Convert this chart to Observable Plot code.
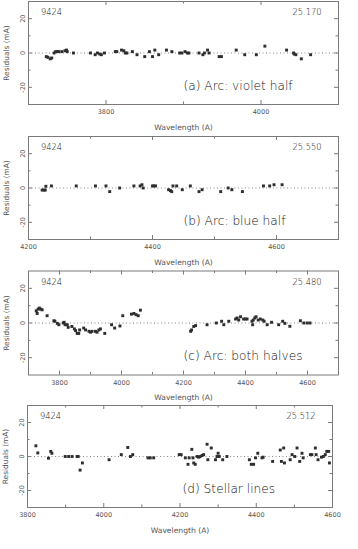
<!DOCTYPE html>
<html><head><meta charset="utf-8">
<script src="https://cdn.jsdelivr.net/npm/d3@7"></script>
<script src="https://cdn.jsdelivr.net/npm/@observablehq/plot@0.6"></script>
<style>body{margin:0;background:#fff}#chart svg{display:block}</style>
</head><body><div id="chart"></div>
<script>
// ---- data ----
const violetWave = [3723,3725,3728,3730,3733,3735,3737,3739,3743,3747,3749,3750,3758,3780,3786,3789,3792,3794,3798,3812,3814,3820,3823,3825,3827,3834,3840,3850,3856,3860,3863,3868,3878,3885,3895,3898,3902,3905,3907,3920,3925,3927,3931,3933,3946,3949,3968,3979,3994,4005,4033,4042,4043,4045,4052,4064];
const violetResid = [-2.1,-2.5,-3.4,-2.9,0,0.8,0.8,0.8,0.8,1.3,1.7,0.8,0,0,-1,0,-0.6,-1,0,0.8,0.8,1.7,1.3,0,0,0.8,-1,-2.1,0.8,-2.1,1.7,-1,1.7,0.8,0,0,0.8,0,0,0,-1,0,1.7,0,-2.1,-2.1,1.7,-1,-1,4,1.7,0,-0.6,-1,-3.4,-1];

const blueWave = [4222,4225,4227,4228,4237,4277,4308,4325,4331,4347,4370,4380,4383,4385,4400,4402,4405,4426,4429,4431,4433,4439,4448,4461,4475,4480,4510,4522,4528,4545,4579,4589,4596,4609];
const blueResid = [-1.2,-1.2,-1.2,1,1.2,1.2,1.2,1.2,-2.1,0,1.2,1.2,1.9,0,1.2,1.2,1.2,-1,-1.5,-2.1,1.2,1.2,-1,1.2,-2.1,-1,-2.1,0,-1,-2.1,1.2,1.2,1.9,1.9];

const bothWave = [3725,3728,3731,3735,3740,3744,3760,3782,3785,3793,3798,3812,3815,3818,3825,3828,3840,3848,3852,3857,3862,3865,3878,3884,3895,3900,3905,3916,3921,3927,3932,3946,3968,3978,3995,4004,4032,4040,4047,4054,4061,
  4223,4226,4233,4239,4276,4306,4323,4330,4346,4368,4373,4378,4384,4394,4400,4405,4421,4423,4425,4430,4434,4441,4448,4456,4460,4470,4484,4507,4520,4527,4543,4577,4588,4599,4608];
const bothResid = [7,5.5,8,8.6,8,7.6,4.2,1.3,1,-0.2,-1,0,0.4,-1,-1,-2.5,-2,-3.4,-4.4,-6,-6,-4,-2.9,-4,-4.8,-5.3,-4.8,-4.8,-5.3,-4,-3.4,-6,-1,-2.9,-1.7,4.2,5.1,5.5,4.8,4.2,7.4,
  -4.8,-4,-2,-1.5,-1,0,1,-1,1,2.3,2.9,1.7,3.6,2.3,2.3,2.3,1,-1,1.7,2.9,3.6,1.7,2.3,1.7,1,-1,0.4,-1,1,-0.2,-1.9,1.3,0,0,0];

const stellarWave = [3822,3827,3855,3861,3864,3899,3908,3917,3930,3933,3938,3944,4014,4046,4063,4070,4076,4116,4122,4131,4198,4203,4214,4221,4224,4231,4234,4236,4240,4245,4249,4253,4258,4262,4271,4273,4282,4293,4297,4300,4303,4312,4323,4382,4387,4393,4398,4404,4415,4418,4443,4463,4466,4472,4474,4489,4494,4501,4507,4514,4520,4523,4542,4546,4555,4557,4562,4571,4576,4581,4585,4590,4592];
const stellarResid = [6.3,2.1,-1,3,1.9,0,0,0,0,0,-8,-3.8,-1.9,1.1,5.3,0,1.1,-0.8,-0.8,-0.8,1.1,1.1,-0.8,-4.6,-0.8,4.2,-0.8,-3.8,-4.6,0,-0.4,0,0.6,1.1,7.2,-1.9,5,-1.9,0,1.9,0,-1.9,0,-1.9,-4.6,-4.6,-0.8,1.9,-0.8,-0.4,-2.9,3.8,-2.9,5,-3.8,-1.9,1.1,0,5,-2.9,1.9,-0.8,1.1,1.1,5,1.1,-1.9,-0.4,0,1.1,3,3,-3.8];

const starIds = ["9424","9424","9424","9424"];
const fitValues = ["25.170","25.550","25.480","25.512"];
const panelLabels = ["(a) Arc: violet half","(b) Arc: blue half","(c) Arc: both halves","(d) Stellar lines"];
const xDomains = [[3700,4100],[4200,4700],[3700,4700],[3800,4600]];
const xTickLabels = [[3800,4000],[4200,4400,4600],[3800,4000,4200,4400,4600],[3800,4000,4200,4400,4600]];
const yDomain = [-30,30];
const yTickLabels = [-20,0,20];
const yMinorTicks = [-10,10];
const xTitle = "Wavelength (A)";
const yTitle = "Residuals (mA)";

// ---- layout ----
const layouts = [
  {height:135, mt:1,   mb:31,  ml:28, mr:20},
  {height:135, mt:1,   mb:31,  ml:28, mr:20},
  {height:134, mt:0.5, mb:29.5,ml:28, mr:20},
  {height:145, mt:1,   mb:42,  ml:27, mr:26}
];
const series = [
  [violetWave, violetResid],
  [blueWave, blueResid],
  [bothWave, bothResid],
  [stellarWave, stellarResid]
];
const W = 358;
const ink = "#555";
const frameInk = "#7a7a7a";
const FONT = "DejaVu Sans, Verdana, sans-serif";

function panel(i) {
  const L = layouts[i];
  const fh = L.height - L.mt - L.mb;
  const fw = W - L.ml - L.mr;
  const [dom0, dom1] = xDomains[i];
  const major = xTickLabels[i];
  const minor = d3.range(dom0 + 100, dom1, 100).filter(v => !major.includes(v));
  const pts = series[i][0].map((w, k) => ({w, r: series[i][1][k]}));
  const majLen = 4, minLen = 2.5;
  const T = {fill: ink, lineAnchor: "middle"};
  const TL = {fill: "#111", lineAnchor: "middle", fontWeight: 200};
  return Plot.plot({
    width: W, height: L.height,
    marginTop: L.mt, marginBottom: L.mb, marginLeft: L.ml, marginRight: L.mr,
    style: {background: "#fff", fontFamily: FONT},
    x: {domain: xDomains[i], axis: null},
    y: {domain: yDomain, axis: null},
    marks: [
      Plot.ruleY([0], {stroke: "#888", strokeDasharray: "1,2.5", strokeWidth: 1}),
      // ticks (inward, on all four sides)
      Plot.tickX(major, {x: d => d, insetTop: fh - majLen, stroke: frameInk}),
      Plot.tickX(major, {x: d => d, insetBottom: fh - majLen, stroke: frameInk}),
      Plot.tickX(minor, {x: d => d, insetTop: fh - minLen, stroke: frameInk}),
      Plot.tickX(minor, {x: d => d, insetBottom: fh - minLen, stroke: frameInk}),
      Plot.tickY(yTickLabels, {y: d => d, insetRight: fw - majLen, stroke: frameInk}),
      Plot.tickY(yTickLabels, {y: d => d, insetLeft: fw - majLen, stroke: frameInk}),
      Plot.tickY(yMinorTicks, {y: d => d, insetRight: fw - minLen, stroke: frameInk}),
      Plot.tickY(yMinorTicks, {y: d => d, insetLeft: fw - minLen, stroke: frameInk}),
      Plot.frame({stroke: frameInk, strokeWidth: 1}),
      Plot.dot(pts, {x: "w", y: "r", symbol: "square", r: 1.65, fill: "#2e2e2e"}),
      // tick labels
      Plot.text(major, {...T, x: d => d, text: d => String(d), frameAnchor: "bottom", dy: 7.5, textAnchor: "middle", fontSize: 6.5}),
      Plot.text(yTickLabels, {...T, y: d => d, text: d => String(d), frameAnchor: "left", dx: -6, rotate: -90, textAnchor: "middle", fontSize: 6.5}),
      // titles
      Plot.text([xTitle], {...T, text: d => d, frameAnchor: "bottom", dy: 23, textAnchor: "middle", fontSize: 7.6}),
      Plot.text([yTitle], {...T, text: d => d, frameAnchor: "left", dx: -22, rotate: -90, textAnchor: "middle", fontSize: 7.4}),
      // annotations
      Plot.text([starIds[i]], {...TL, text: d => d, frameAnchor: "top-left", dx: 12.5, dy: 11, textAnchor: "start", fontSize: 8.3}),
      Plot.text([fitValues[i]], {...TL, text: d => d, frameAnchor: "top-right", dx: -17, dy: 11, textAnchor: "end", fontSize: 8.3}),
      Plot.text([panelLabels[i]], {...TL, text: d => d, frameAnchor: "bottom-left", dx: 155, dy: -18.5, textAnchor: "start", fontSize: 12.2})
    ]
  });
}

const root = document.getElementById("chart");
for (let i = 0; i < 4; i++) root.appendChild(panel(i));
</script>
</body></html>
